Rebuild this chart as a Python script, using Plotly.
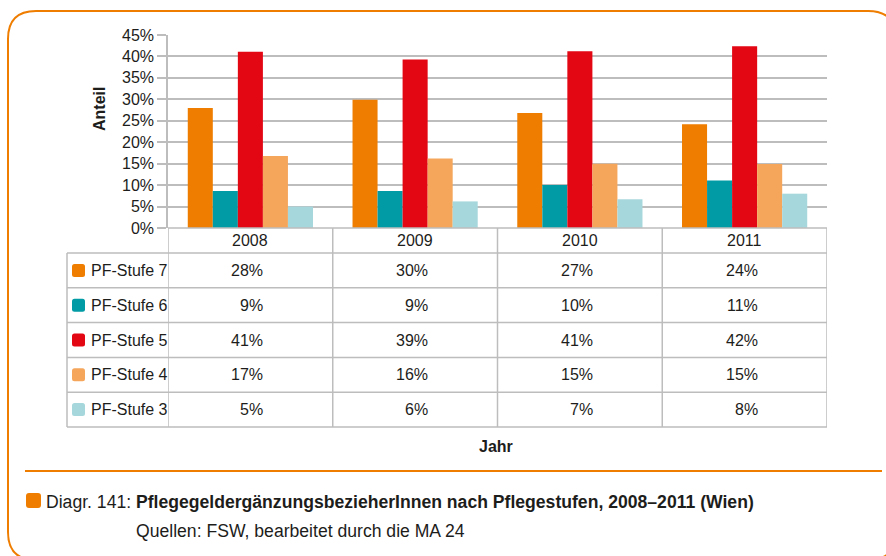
import plotly.graph_objects as go

# ---------------- data ----------------
years = ["2008", "2009", "2010", "2011"]
series_names = ["PF-Stufe 7", "PF-Stufe 6", "PF-Stufe 5", "PF-Stufe 4", "PF-Stufe 3"]
stufe7 = [28.0, 29.9, 26.8, 24.2]
stufe6 = [8.6, 8.6, 10.0, 11.1]
stufe5 = [41.1, 39.3, 41.2, 42.4]
stufe4 = [16.8, 16.2, 15.0, 14.9]
stufe3 = [5.0, 6.2, 6.7, 8.0]
y_ticks = [0, 5, 10, 15, 20, 25, 30, 35, 40, 45]
y_tick_labels = ["0%", "5%", "10%", "15%", "20%", "25%", "30%", "35%", "40%", "45%"]

series_values = [stufe7, stufe6, stufe5, stufe4, stufe3]
colors = ["#EE7D00", "#009BA4", "#E30613", "#F5A65B", "#A6D7DC"]

W, H = 886, 556
FONT = "Liberation Sans, Arial, sans-serif"
FS = 16
CAP_FS = 17.6
TXT = "#1d1d1b"
GRID = "#bdbdbd"
ORANGE = "#EE7D00"


def px(x):
    return x / W


def py(y):
    return 1 - y / H


# plot area in pixels
PL, PR, PT, PB = 168, 827, 35, 228

fig = go.Figure()
for name, vals, col in zip(series_names, series_values, colors):
    fig.add_trace(go.Bar(x=years, y=vals, name=name, marker_color=col,
                         marker_line_width=0, showlegend=False))

fig.update_layout(
    width=W, height=H,
    margin=dict(l=0, r=0, t=0, b=0, pad=0, autoexpand=False),
    showlegend=False,
    paper_bgcolor="white", plot_bgcolor="white",
    barmode="group", bargap=0.24, bargroupgap=0,
    font=dict(family=FONT, size=FS, color=TXT),
    xaxis=dict(domain=[px(PL), px(PR)], showticklabels=False, showgrid=False,
               zeroline=False, showline=False, ticks="", range=[-0.5, 3.5],
               type="category", automargin=False),
    yaxis=dict(domain=[py(PB), py(PT)], range=[0, 45], tickvals=y_ticks,
               ticktext=y_tick_labels, showgrid=True, gridcolor=GRID, gridwidth=1.5,
               zeroline=False, showline=True, linecolor=GRID, linewidth=1.5,
               ticks="outside", ticklen=9, tickcolor=GRID, tickwidth=1.5,
               tickfont=dict(size=FS, color=TXT), automargin=False),
)

shapes = []
annotations = []

# table geometry
T_LEFT = 67
HEADER_TOP, HEADER_BOT = PB, 253
ROW_H = (427 - 253) / 5
row_edges = [HEADER_BOT + i * ROW_H for i in range(6)]
line = dict(color=GRID, width=1.5)

shapes.append(dict(type="line", xref="paper", yref="paper", x0=px(PL), x1=px(PR),
                   y0=py(PB), y1=py(PB), line=line, layer="above"))
for b in [-0.5, 0.5, 1.5, 2.5, 3.5]:
    shapes.append(dict(type="line", xref="x", yref="paper", x0=b, x1=b,
                       y0=py(HEADER_TOP), y1=py(row_edges[-1]), line=line))
shapes.append(dict(type="line", xref="paper", yref="paper", x0=px(T_LEFT), x1=px(T_LEFT),
                   y0=py(row_edges[0]), y1=py(row_edges[-1]), line=line))
for ye in row_edges:
    shapes.append(dict(type="line", xref="paper", yref="paper", x0=px(T_LEFT), x1=px(PR),
                       y0=py(ye), y1=py(ye), line=line))

for i, yr in enumerate(years):
    annotations.append(dict(x=i, y=py((HEADER_TOP + HEADER_BOT) / 2), xref="x", yref="paper",
                            text=yr, showarrow=False, xanchor="center", yanchor="middle",
                            font=dict(size=FS, color=TXT)))


def rounded_rect(x0, y0, x1, y1, r):
    pts = [
        f"M {px(x0 + r)},{py(y0)}",
        f"L {px(x1 - r)},{py(y0)}",
        f"Q {px(x1)},{py(y0)} {px(x1)},{py(y0 + r)}",
        f"L {px(x1)},{py(y1 - r)}",
        f"Q {px(x1)},{py(y1)} {px(x1 - r)},{py(y1)}",
        f"L {px(x0 + r)},{py(y1)}",
        f"Q {px(x0)},{py(y1)} {px(x0)},{py(y1 - r)}",
        f"L {px(x0)},{py(y0 + r)}",
        f"Q {px(x0)},{py(y0)} {px(x0 + r)},{py(y0)}",
        "Z",
    ]
    return " ".join(pts)


for r, (name, vals, col) in enumerate(zip(series_names, series_values, colors)):
    yc = (row_edges[r] + row_edges[r + 1]) / 2
    shapes.append(dict(type="path", xref="paper", yref="paper",
                       path=rounded_rect(72, yc - 6.5, 85, yc + 6.5, 2.5),
                       fillcolor=col, line=dict(width=0)))
    annotations.append(dict(x=px(89), y=py(yc), xref="paper", yref="paper", text=name,
                            showarrow=False, xanchor="left", yanchor="middle",
                            font=dict(size=FS, color=TXT)))
    for i, v in enumerate(vals):
        annotations.append(dict(x=i, y=py(yc), xref="x", yref="paper",
                                text=f"{round(v)}%", showarrow=False, xanchor="right",
                                xshift=15, yanchor="middle", font=dict(size=FS, color=TXT)))

annotations.append(dict(x=px(99), y=py(109), xref="paper", yref="paper", text="<b>Anteil</b>",
                        textangle=-90, showarrow=False, xanchor="center", yanchor="middle",
                        font=dict(size=FS, color=TXT)))
annotations.append(dict(x=px(496), y=py(446), xref="paper", yref="paper", text="<b>Jahr</b>",
                        showarrow=False, xanchor="center", yanchor="middle",
                        font=dict(size=FS, color=TXT)))

# separator line
shapes.append(dict(type="line", xref="paper", yref="paper", x0=px(25), x1=px(882),
                   y0=py(471), y1=py(471), line=dict(color=ORANGE, width=2)))

# caption
shapes.append(dict(type="path", xref="paper", yref="paper",
                   path=rounded_rect(26, 493, 41, 508, 3),
                   fillcolor=ORANGE, line=dict(width=0)))
annotations.append(dict(x=px(44), y=py(502), xref="paper", yref="paper",
                        text="Diagr. 141: <b>Pflegegeldergänzungsbezieher" + "Innen nach Pflegestufen, 2008–2011 (Wien)</b>",
                        showarrow=False, xanchor="left", yanchor="middle",
                        font=dict(size=CAP_FS, color=TXT)))
annotations.append(dict(x=px(134), y=py(531), xref="paper", yref="paper",
                        text="Quellen: FSW, bearbeitet durch die MA 24",
                        showarrow=False, xanchor="left", yanchor="middle",
                        font=dict(size=CAP_FS, color=TXT)))

# outer frame
shapes.append(dict(type="path", xref="paper", yref="paper",
                   path=rounded_rect(8, 11, 896, 560, 28),
                   fillcolor="rgba(0,0,0,0)", line=dict(color=ORANGE, width=2)))

fig.update_layout(shapes=shapes, annotations=annotations)
fig.write_html("out.html", config={"displayModeBar": False},
               post_script="document.body.style.margin='0';")
